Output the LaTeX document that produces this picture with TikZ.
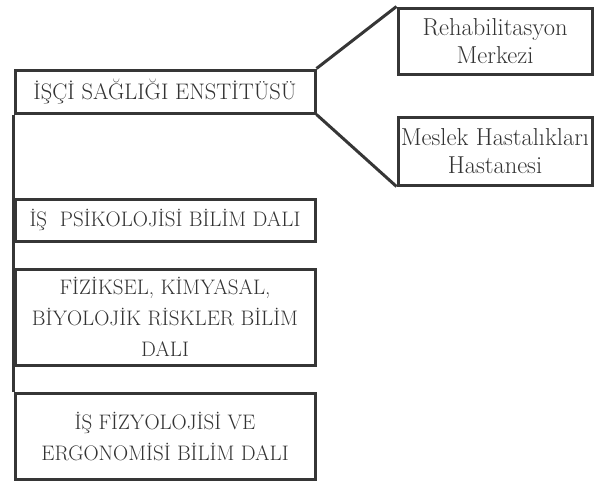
\documentclass[tikz,border=0pt]{standalone}
\usepackage{fontspec}
\definecolor{ink}{HTML}{363636}
\definecolor{txt}{HTML}{333333}
\begin{document}
\begin{tikzpicture}[x=1pt,y=-1pt,
  box/.style={draw=ink,line width=3pt,rectangle,inner sep=0pt,align=center,
    text=txt,font=\fontsize{21}{31}\selectfont},
  smallbox/.style={box,font=\fontsize{24.5}{28}\selectfont},
  link/.style={draw=ink,line width=3pt}]
\useasboundingbox (0,0) rectangle (603,483);
\node[box,font=\fontsize{22.5}{31}\selectfont,minimum width=300pt,minimum height=43pt] (main) at (165,91.5) {İŞÇİ SAĞLIĞI ENSTİTÜSÜ};
\node[box,minimum width=300pt,minimum height=42pt] (psi) at (165,220) {İŞ\ \ PSİKOLOJİSİ BİLİM DALI};
\node[box,minimum width=300pt,minimum height=96pt] (fiz) at (165,317) {FİZİKSEL, KİMYASAL,\\BİYOLOJİK RİSKLER BİLİM\\DALI};
\node[box,minimum width=300pt,minimum height=86pt] (erg) at (165,436) {İŞ FİZYOLOJİSİ VE\\ERGONOMİSİ BİLİM DALI};
\node[smallbox,minimum width=194pt,minimum height=66pt] (reh) at (495,41) {Rehabilitasyon\\Merkezi};
\node[smallbox,minimum width=194pt,minimum height=68pt] (mes) at (495,151) {Meslek Hastalıkları\\Hastanesi};
\draw[link] (main.south west) -- (erg.north west);
\draw[link] (main.north east) -- (reh.north west);
\draw[link] (main.south east) -- (mes.south west);
\end{tikzpicture}
\end{document}
